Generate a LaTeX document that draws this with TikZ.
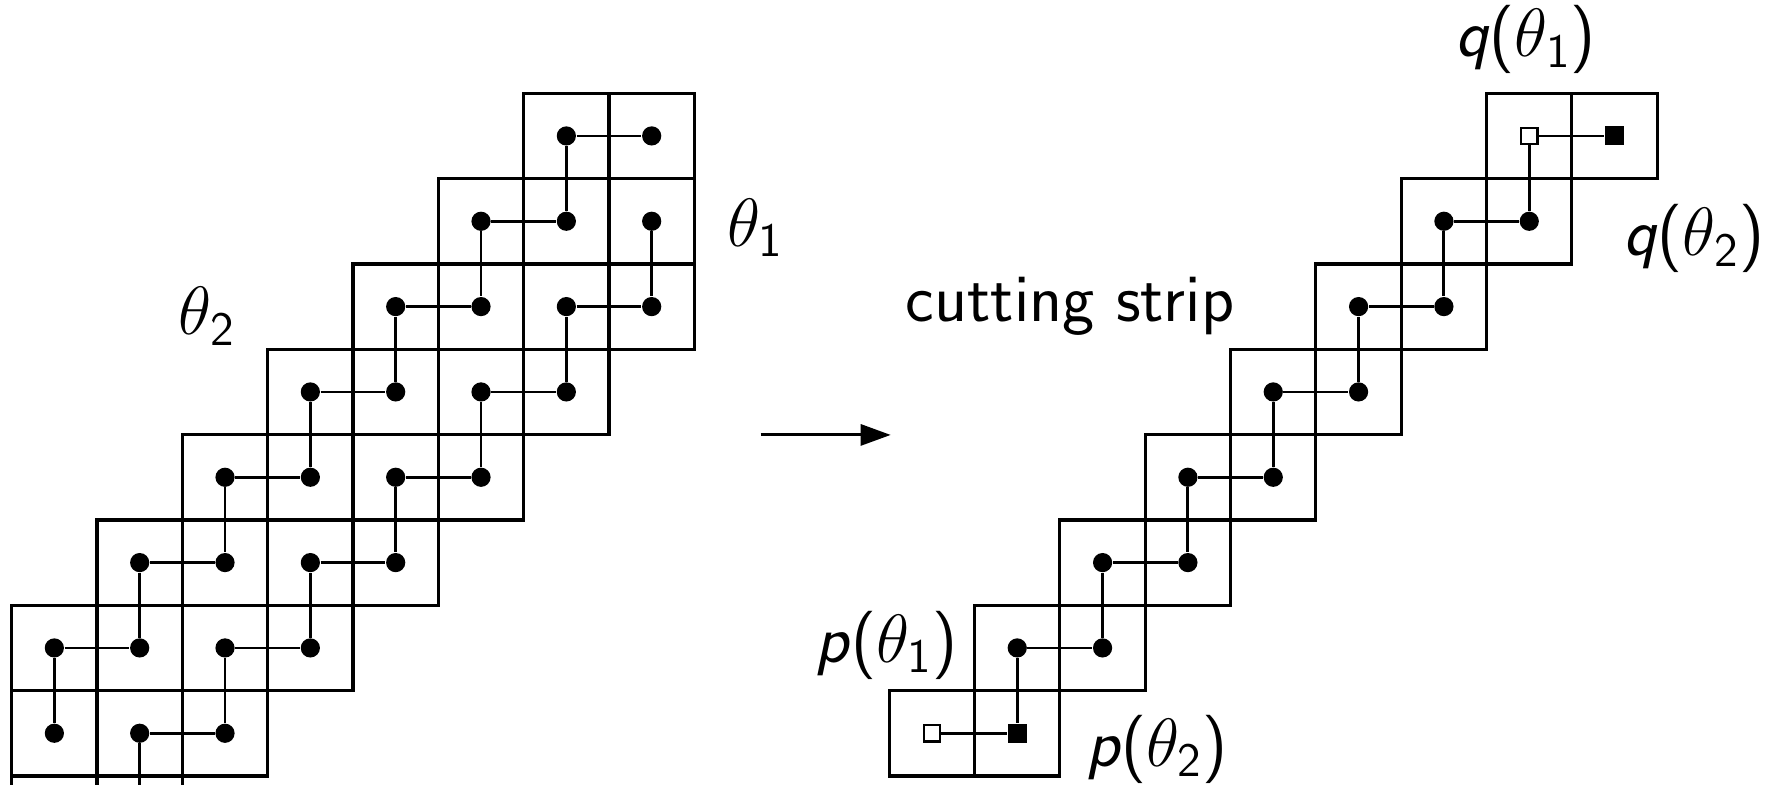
\RequirePackage{fix-cm}
\documentclass[tikz,border=0pt]{standalone}
\usepackage{amsmath}
\usetikzlibrary{arrows.meta}
\tikzset{
  gridline/.style={line width=1.05pt},
  conn/.style={line width=0.95pt},
  dot/.style={circle, fill=black, inner sep=0pt, minimum size=0.225cm},
  fsq/.style={rectangle, fill=black, inner sep=0pt, minimum size=0.223cm},
  hsq/.style={rectangle, draw=black, fill=white, line width=0.8pt, inner sep=0pt, minimum size=0.19cm},
  lbl/.style={inner sep=0pt, anchor=base west, font=\fontsize{22.8}{27}\selectfont},
}
\newcommand{\plab}[2]{\textsf{\itshape #1}\textsf{(}$\theta_{\mathsf{#2}}$\textsf{)}}
\begin{document}
\begin{tikzpicture}
\useasboundingbox (0,0) rectangle (20.766,9.199);
\begin{scope}
\clip (0,0) rectangle (20.766,9.199);
% ---------- left figure ----------
\begin{scope}[shift={(0.137,8.106)}]
  \foreach \r in {0,...,8} {
    \pgfmathtruncatemacro\cmin{max(0,6-\r)}
    \pgfmathtruncatemacro\cmax{min(7,9-\r)}
    \foreach \c in {\cmin,...,\cmax} {
      \draw[gridline] (\c,-\r) rectangle (\c+1,-\r-1);
      \node[dot] (L-\c-\r) at (\c+0.5,-\r-0.5) {};
    }
  }
  \foreach \r in {0,...,8} {
    \pgfmathtruncatemacro\cmin{max(0,6-\r)}
    \pgfmathtruncatemacro\cmax{min(7,9-\r)}
    \foreach \c in {\cmin,...,\cmax} {
      \pgfmathtruncatemacro\pty{mod(\c+\r,2)}
      \ifnum\pty=0
        \pgfmathtruncatemacro\cn{\c+1}
        \ifnum\cn>\cmax\else \draw[conn] (L-\c-\r) -- (L-\cn-\r);\fi
        \pgfmathtruncatemacro\rn{\r+1}
        \ifnum\rn<9 \draw[conn] (L-\c-\r) -- (L-\c-\rn);\fi
      \fi
    }
  }
\end{scope}
\end{scope}
% ---------- right figure ----------
\begin{scope}[shift={(10.421,8.106)}]
  \foreach \r in {0,...,7} {
    \pgfmathtruncatemacro\ja{7-\r}
    \pgfmathtruncatemacro\jb{8-\r}
    \draw[gridline] (\ja,-\r) rectangle (\jb+1,-\r-1);
    \draw[gridline] (\jb,-\r) -- (\jb,-\r-1);
  }
  \node[hsq] (Ra0) at (7.5,-0.5) {};
  \node[fsq] (Rb0) at (8.5,-0.5) {};
  \foreach \r in {1,...,6} {
    \pgfmathtruncatemacro\ja{7-\r}
    \node[dot] (Ra\r) at (\ja+0.5,-\r-0.5) {};
    \node[dot] (Rb\r) at (\ja+1.5,-\r-0.5) {};
  }
  \node[hsq] (Ra7) at (0.5,-7.5) {};
  \node[fsq] (Rb7) at (1.5,-7.5) {};
  \foreach \r in {0,...,7} {
    \draw[conn] (Ra\r) -- (Rb\r);
  }
  \foreach \r in {0,...,6} {
    \pgfmathtruncatemacro\rn{\r+1}
    \draw[conn] (Ra\r) -- (Rb\rn);
  }
\end{scope}
% ---------- arrow ----------
\coordinate (as) at (8.914,4.102);
\coordinate (ae) at (10.438,4.102);
\draw[line width=1.0pt,-{Triangle[length=10pt,width=7pt]}] (as) -- (ae);
% ---------- labels ----------
\node[lbl] (t1) at (8.516,6.308) {$\theta_{\mathsf{1}}$};
\node[lbl] (t2) at (2.09,5.274) {$\theta_{\mathsf{2}}$};
\node[lbl] (cs) at (10.61,5.429) {\sffamily cutting strip};
\node[lbl] (p1) at (9.55,1.441) {\plab{p}{1}};
\node[lbl] (p2) at (12.72,0.22) {\plab{p}{2}};
\node[lbl] (q1) at (17.05,8.531) {\plab{q}{1}};
\node[lbl] (q2) at (19.02,6.199) {\plab{q}{2}};
\end{tikzpicture}
\end{document}
